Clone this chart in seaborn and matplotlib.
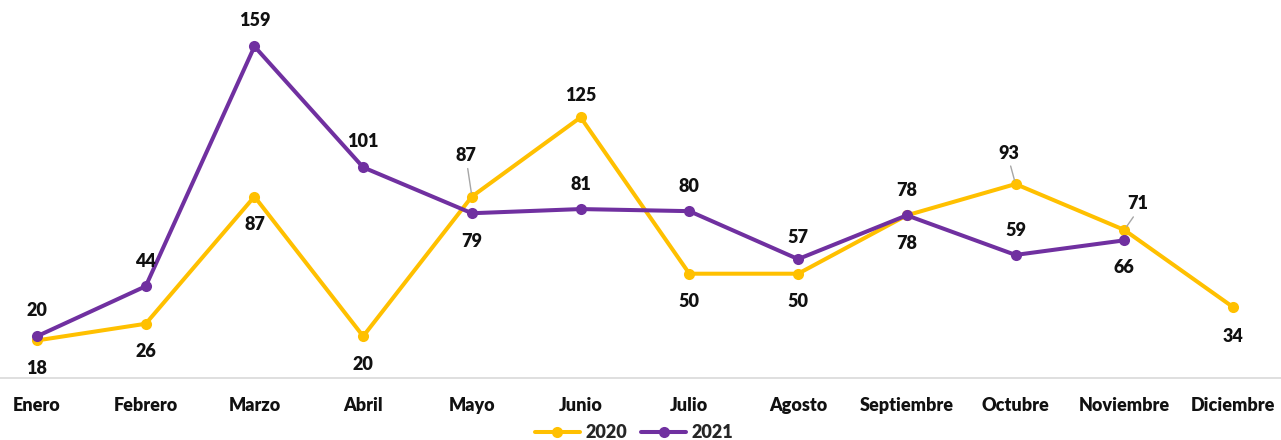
import matplotlib
matplotlib.use("Agg")
import matplotlib.pyplot as plt
import seaborn as sns
import pandas as pd
import numpy as np

months = ["Enero", "Febrero", "Marzo", "Abril", "Mayo", "Junio", "Julio",
          "Agosto", "Septiembre", "Octubre", "Noviembre", "Diciembre"]
values_2020 = [18, 26, 87, 20, 87, 125, 50, 50, 78, 93, 71, 34]
values_2021 = [20, 44, 159, 101, 79, 81, 80, 57, 78, 59, 66]
series_names = ["2020", "2021"]

sns.set_theme(style="white")
plt.rcParams['font.family'] = ['Lato', 'DejaVu Sans']

rows = []
for i, v in enumerate(values_2020):
    rows.append({"mes": i, "valor": v, "serie": "2020"})
for i, v in enumerate(values_2021):
    rows.append({"mes": i, "valor": v, "serie": "2021"})
df = pd.DataFrame(rows)

colors = {"2020": "#FFC000", "2021": "#7030A0"}
FS = 13
TXT = "#111111"

fig = plt.figure(figsize=(12.81, 4.40), dpi=100)
ax = fig.add_axes([0.0, 0.141, 1.0, 0.853])

sns.lineplot(data=df, x="mes", y="valor", hue="serie", palette=colors,
             marker="o", markersize=8, markeredgewidth=0, linewidth=2.9,
             ax=ax, legend=False, sort=False)

ax.set_xlim(-37 / 108.7, 11 + 48 / 108.7)
ax.set_ylim(0, 180)
ax.set_xticks(range(len(months)))
ax.set_xticklabels(months, fontsize=FS, fontweight="heavy", color=TXT)
ax.tick_params(axis="x", length=0, pad=14)
ax.set_yticks([])
ax.set_xlabel("")
ax.set_ylabel("")
for s in ["top", "left", "right"]:
    ax.spines[s].set_visible(False)
ax.spines["bottom"].set_color("#d9d9d9")
ax.spines["bottom"].set_linewidth(1.2)

# label offsets in pixels (dx, dy), leader flag
off_2020 = [(0, -28, False), (0, -28, False), (0, -28, False), (0, -28, False),
            (-6, 41, True), (0, 22, False), (0, -28, False), (0, -28, False),
            (0, -28, False), (-7, 31, True), (13, 26, True), (0, -29, False)]
off_2021 = [(0, 26, False), (0, 25, False), (0, 26, False), (0, 26, False),
            (0, -28, False), (0, 25, False), (0, 25, False), (0, 22, False),
            (0, 25, False), (0, 24, False), (0, -27, False)]

def label(vals, offs):
    for i, (v, (dx, dy, lead)) in enumerate(zip(vals, offs)):
        ax.annotate(str(v), xy=(i, v), xytext=(dx, dy), textcoords="offset pixels",
                    ha="center", va="center", fontsize=FS, fontweight="heavy",
                    color=TXT, annotation_clip=False)
        if lead:
            ax.annotate("", xy=(i, v), xytext=(dx * 0.7, dy - 13 if dy > 0 else dy + 13),
                        textcoords="offset pixels",
                        arrowprops=dict(arrowstyle="-", color="#a6a6a6", lw=1.0,
                                        shrinkA=0, shrinkB=3),
                        annotation_clip=False)

label(values_2020, off_2020)
label(values_2021, off_2021)

from matplotlib.lines import Line2D
handles = [Line2D([0], [0], color=colors[n], lw=2.9, marker="o", markersize=8,
                  markeredgewidth=0) for n in series_names]
fig.legend(handles, series_names, loc="center", bbox_to_anchor=(0.495, 0.016),
           ncol=2, frameon=False, prop={"weight": "heavy", "size": FS},
           handlelength=2.5, columnspacing=0.8, handletextpad=0.3)

fig.savefig("out.png", dpi=100)
